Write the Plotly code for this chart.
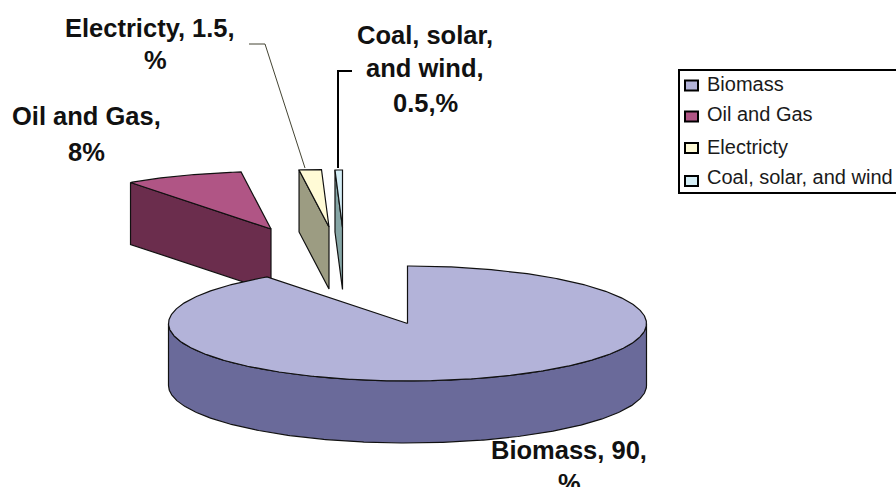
import math
import plotly.graph_objects as go

# ---- data ----
categories = ["Biomass", "Oil and Gas", "Electricty", "Coal, solar, and wind"]
shares = [90, 8, 1.5, 0.5]
top_colors = ["#b3b3d9", "#b05585", "#fffbd6", "#d5eef6"]
side_colors = ["#6a6a9a", "#6b2d4d", "#9c9c82", "#85a5a5"]
data_labels = [["Biomass, 90,", "%"], ["Oil and Gas,", "8%"], ["Electricty, 1.5,", "%"],
               ["Coal, solar,", "and wind,", "0.5,%"]]

# ---- pie projection settings (drawing area in page pixels) ----
CX, CY, RX, RY, DEPTH = 407.5, 323.5, 239, 57.5, 62
explode = [(0, 0), (-136.5, -94.5), (-78.5, -96.5), (-65, -96)]
label_pos = [[(569, 450), (569, 483)], [(86, 116), (86, 152)], [(150, 28), (155, 60)],
             [(425, 35), (425, 68), (425, 103)]]
FONT = "Liberation Sans, Arial, sans-serif"


def pt(deg, ox, oy, dz=0):
    a = math.radians(deg)
    return CX + ox + RX * math.sin(a), CY + oy - RY * math.cos(a) + dz


def arc(a0, a1, ox, oy, dz=0):
    n = max(2, int(abs(a1 - a0) * 2))
    return [pt(a0 + (a1 - a0) * i / n, ox, oy, dz) for i in range(n + 1)]


def poly(fig, pts, fill, line="#111111", width=1.2):
    xs = [p[0] for p in pts] + [pts[0][0]]
    ys = [p[1] for p in pts] + [pts[0][1]]
    fig.add_trace(go.Scatter(x=xs, y=ys, mode="lines", fill="toself", fillcolor=fill,
                             line=dict(color=line, width=width), hoverinfo="skip", showlegend=False))


fig = go.Figure()
starts = []
acc = 0
for s in shares:
    starts.append(acc * 3.6)
    acc += s

# exploded slices first, biomass drawn last so it overlaps them
for i in [1, 2, 3, 0]:
    a0 = starts[i]
    a1 = a0 + shares[i] * 3.6
    ox, oy = explode[i]
    apex = (CX + ox, CY + oy)
    if i == 0:
        rim = arc(90, 270, ox, oy) + arc(270, 90, ox, oy, DEPTH)
        poly(fig, rim, side_colors[i])
    else:
        p0 = pt(a0, ox, oy)
        face = [p0, apex, (apex[0], apex[1] + DEPTH), (p0[0], p0[1] + DEPTH)]
        poly(fig, face, side_colors[i])
    top = [apex] + arc(a0, a1, ox, oy)
    poly(fig, top, top_colors[i])

shapes = [
    dict(type="path", path="M 249 44 L 265 44 L 305 168", line=dict(color="#444433", width=1)),
    dict(type="path", path="M 352 71 L 338 71 L 338 168", line=dict(color="#000000", width=2)),
    dict(type="rect", x0=679, y0=70, x1=905, y1=193, line=dict(color="#000000", width=2),
         fillcolor="#ffffff"),
]
legend_text_y = [84, 114, 147, 177]
legend_swatch_y = [85.5, 116.5, 148, 181]
annotations = []
for c, ty, sy, col in zip(categories, legend_text_y, legend_swatch_y, top_colors):
    shapes.append(dict(type="rect", x0=685, x1=698, y0=sy - 5, y1=sy + 5, fillcolor=col,
                       line=dict(color="#000000", width=2)))
    annotations.append(dict(x=705, y=ty, text=c, xanchor="left", yanchor="middle", showarrow=False,
                            font=dict(family=FONT, size=20, color="#1a1a1a")))

for lines, poss in zip(data_labels, label_pos):
    for t, (x, y) in zip(lines, poss):
        annotations.append(dict(x=x, y=y, text="<b>" + t + "</b>", xanchor="center", yanchor="middle",
                                showarrow=False, font=dict(family=FONT, size=25.5, color="#111111")))

fig.update_layout(
    width=896, height=487, margin=dict(l=0, r=0, t=0, b=0), paper_bgcolor="#ffffff",
    plot_bgcolor="#ffffff", showlegend=False, shapes=shapes, annotations=annotations,
    xaxis=dict(visible=False, range=[0, 896], fixedrange=True),
    yaxis=dict(visible=False, range=[487, 0], fixedrange=True),
)
fig.write_html("out.html", config={"displayModeBar": False},
               post_script="document.body.style.margin='0';document.body.style.overflow='hidden';")
